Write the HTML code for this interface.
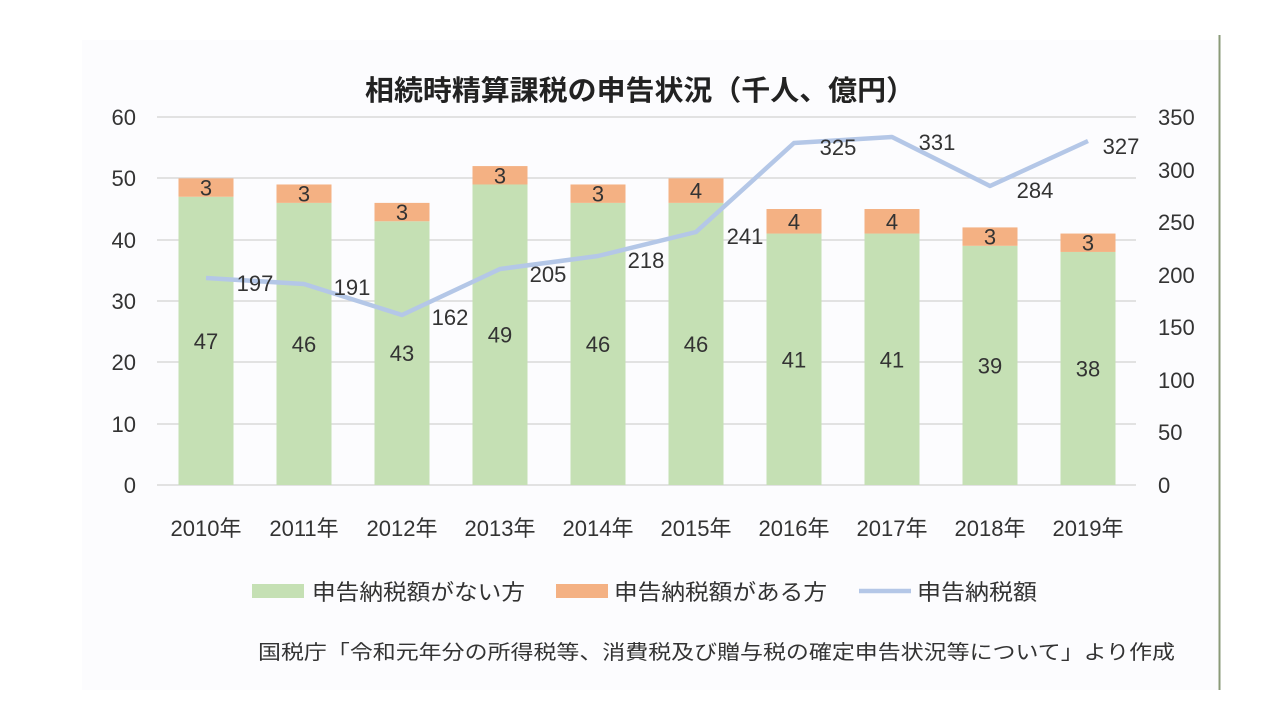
<!DOCTYPE html>
<html><head><meta charset="utf-8"><style>
body{margin:0;background:#fff;}
svg{display:block;font-family:"Liberation Sans","Noto Sans CJK JP",sans-serif;}
</style></head><body>
<svg width="1280" height="720" viewBox="0 0 1280 720">
<rect x="82" y="40" width="1136" height="650" fill="#fcfcfe"/>
<line x1="1219.5" y1="35" x2="1219.5" y2="690" stroke="#8a9a78" stroke-width="2"/>
<text x="640" y="100" text-anchor="middle" font-size="28" font-weight="bold" fill="#222" textLength="550" lengthAdjust="spacingAndGlyphs">相続時精算課税の申告状況（千人、億円）</text>
<g stroke="#d9d9d9" stroke-width="1.5">
<line x1="157" y1="117" x2="1136" y2="117"/><line x1="157" y1="178" x2="1136" y2="178"/>
<line x1="157" y1="240" x2="1136" y2="240"/><line x1="157" y1="301" x2="1136" y2="301"/>
<line x1="157" y1="362" x2="1136" y2="362"/><line x1="157" y1="424" x2="1136" y2="424"/>
<line x1="157" y1="485" x2="1136" y2="485"/>
</g>
<g font-size="22" fill="#333" text-anchor="end">
<text x="136" y="125">60</text><text x="136" y="186">50</text><text x="136" y="248">40</text>
<text x="136" y="309">30</text><text x="136" y="370">20</text><text x="136" y="432">10</text><text x="136" y="493">0</text>
</g>
<g font-size="22" fill="#333" text-anchor="start">
<text x="1158" y="125">350</text><text x="1158" y="178">300</text><text x="1158" y="230">250</text>
<text x="1158" y="283">200</text><text x="1158" y="335">150</text><text x="1158" y="388">100</text>
<text x="1158" y="440">50</text><text x="1158" y="493">0</text>
</g>
<g id="bars"></g>
<polyline fill="none" stroke="#b4c7e7" stroke-width="4.5" stroke-linejoin="round" points="206,278 304,284 402,315 500,269 598,256 696,232 794,143 892,137 990,186 1088,141"/>
<g font-size="22" fill="#333" text-anchor="middle">
<text x="255" y="291">197</text><text x="352" y="295">191</text><text x="450" y="325">162</text>
<text x="548" y="282">205</text><text x="646" y="268">218</text><text x="745" y="244">241</text>
<text x="838" y="155">325</text><text x="937" y="150">331</text><text x="1035" y="198">284</text><text x="1121" y="154">327</text>
</g>
<g font-size="22" fill="#333" text-anchor="middle">
<text x="206" y="536">2010年</text><text x="304" y="536">2011年</text><text x="402" y="536">2012年</text>
<text x="500" y="536">2013年</text><text x="598" y="536">2014年</text><text x="696" y="536">2015年</text>
<text x="794" y="536">2016年</text><text x="892" y="536">2017年</text><text x="990" y="536">2018年</text><text x="1088" y="536">2019年</text>
</g>
<rect x="252" y="584" width="52" height="14" fill="#c5e0b4"/>
<text x="312" y="600" font-size="22" fill="#333" textLength="213" lengthAdjust="spacingAndGlyphs">申告納税額がない方</text>
<rect x="556" y="584" width="52" height="14" fill="#f4b183"/>
<text x="614" y="600" font-size="22" fill="#333" textLength="213" lengthAdjust="spacingAndGlyphs">申告納税額がある方</text>
<line x1="859" y1="591" x2="911" y2="591" stroke="#b4c7e7" stroke-width="4.5"/>
<text x="917" y="600" font-size="22" fill="#333" textLength="120" lengthAdjust="spacingAndGlyphs">申告納税額</text>
<text x="258" y="659" font-size="20" fill="#333" textLength="917" lengthAdjust="spacingAndGlyphs">国税庁「令和元年分の所得税等、消費税及び贈与税の確定申告状況等について」より作成</text>
</svg>
<script>
var np=[47,46,43,49,46,46,41,41,39,38],p=[3,3,3,3,3,4,4,4,3,3],s="";
for(var i=0;i<10;i++){var c=206+98*i,k=6.133,g=np[i]*k,o=p[i]*k,yg=485-g,yo=yg-o;
s+='<rect x="'+(c-27.5)+'" y="'+yg+'" width="55" height="'+g+'" fill="#c5e0b4"/>';
s+='<rect x="'+(c-27.5)+'" y="'+yo+'" width="55" height="'+o+'" fill="#f4b183"/>';
s+='<text x="'+c+'" y="'+(485-g/2+8)+'" font-size="22" fill="#333" text-anchor="middle">'+np[i]+'</text>';
s+='<text x="'+c+'" y="'+(yo+o/2+8)+'" font-size="22" fill="#333" text-anchor="middle">'+p[i]+'</text>';}
document.getElementById("bars").innerHTML=s;
</script>
</body></html>
